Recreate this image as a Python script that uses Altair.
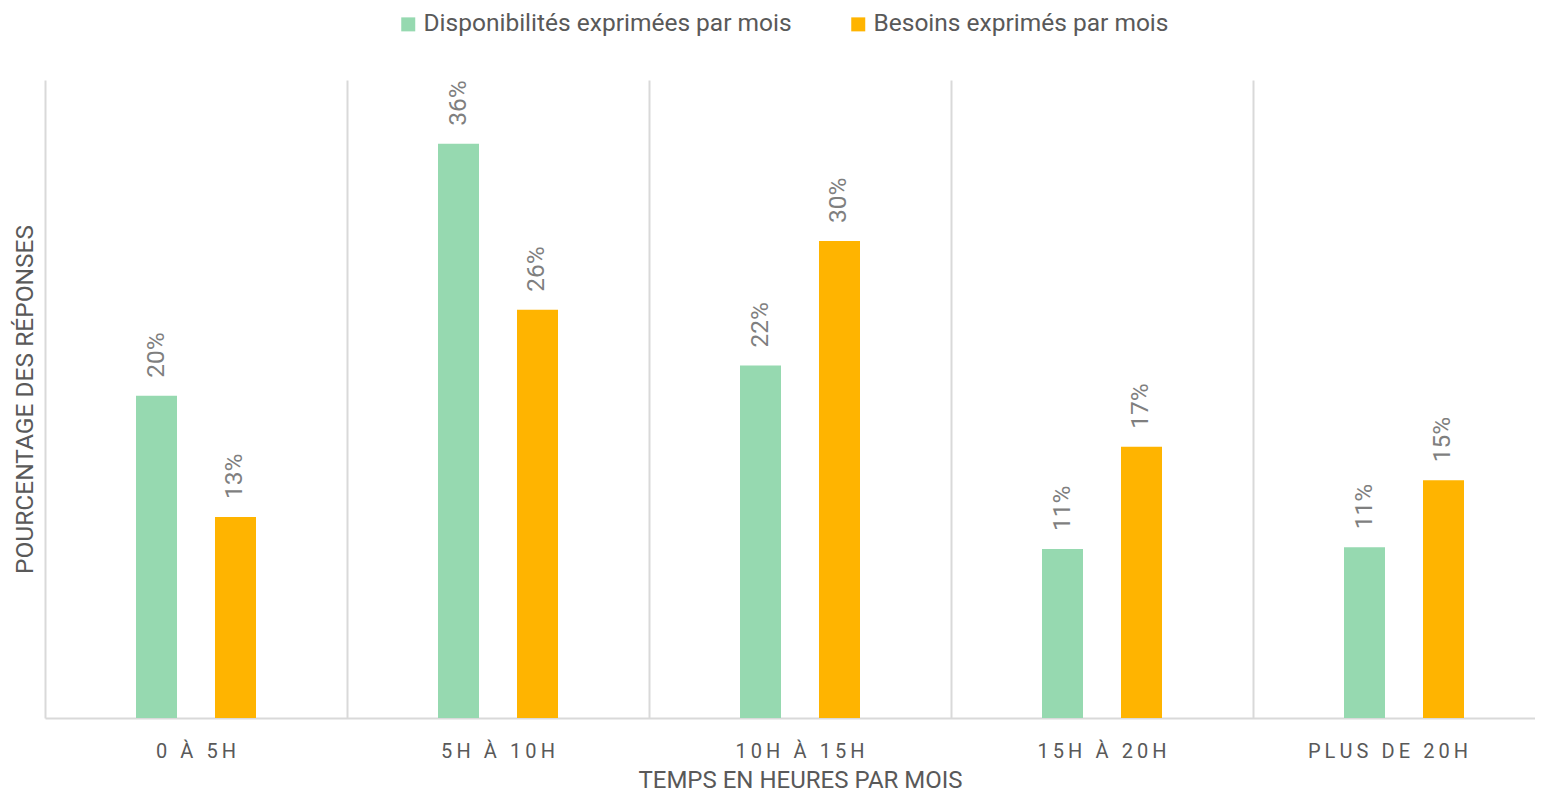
import altair as alt
import pandas as pd

categories = ["0 À 5H", "5H À 10H", "10H À 15H", "15H À 20H", "PLUS DE 20H"]
series = ["Disponibilités exprimées par mois", "Besoins exprimés par mois"]
dispo = [0.202, 0.36, 0.221, 0.106, 0.107]
besoins = [0.126, 0.256, 0.299, 0.17, 0.149]
colors = ["#96D9B0", "#FFB400"]

rows = []
for c, d, b in zip(categories, dispo, besoins):
    rows.append({"cat": c, "serie": series[0], "val": d})
    rows.append({"cat": c, "serie": series[1], "val": b})
df = pd.DataFrame(rows)

FONT = "Roboto"
GRAY = "#595959"

x = alt.X(
    "cat:N",
    sort=categories,
    scale=alt.Scale(paddingInner=0, paddingOuter=0),
    axis=alt.Axis(
        title="TEMPS EN HEURES PAR MOIS",
        labelAngle=0,
        labelFontSize=20,
        labelColor=GRAY,
        labelFont=FONT,
        labelBaseline="alphabetic",
        labelPadding=39,
        labelExpr="join(split(datum.label, ''), '\u2009')",
        labelOffset={
            "condition": {"test": "datum.value == 'PLUS DE 20H'", "value": -16},
            "value": 0,
        },
        ticks=False,
        domainColor="#D9D9D9",
        domainWidth=2,
        grid=True,
        gridColor="#D9D9D9",
        gridWidth=2,
        bandPosition=0,
        titleFontSize=24,
        titleFont=FONT,
        titleColor=GRAY,
        titleFontWeight="normal",
        titleBaseline="alphabetic",
        titleY=69,
    ),
)
xo = alt.XOffset(
    "serie:N",
    sort=series,
    scale=alt.Scale(range=[91, 211], paddingInner=0.481, paddingOuter=0),
)
y = alt.Y(
    "val:Q",
    scale=alt.Scale(domain=[0, 0.4], nice=False),
    axis=alt.Axis(
        title="POURCENTAGE DES RÉPONSES",
        labels=False,
        ticks=False,
        domain=False,
        grid=False,
        titleFontSize=24.5,
        titleFont=FONT,
        titleColor=GRAY,
        titleFontWeight="normal",
        titlePadding=8,
    ),
)
color = alt.Color(
    "serie:N",
    sort=series,
    scale=alt.Scale(domain=series, range=colors),
    legend=alt.Legend(
        title=None,
        orient="none",
        direction="horizontal",
        legendX=351,
        legendY=-68,
        symbolType="square",
        symbolSize=196,
        symbolStrokeWidth=0,
        labelFontSize=24.5,
        labelFont=FONT,
        labelColor=GRAY,
        labelOffset=3,
        labelLimit=0,
        columnPadding=54,
        padding=0,
    ),
)

base = alt.Chart(df).encode(x=x, xOffset=xo, y=y)
bars = base.mark_bar().encode(color=color)
labels = base.mark_text(
    angle=270, align="left", baseline="middle", dx=18,
    fontSize=24.5, font=FONT, color="#7F7F7F",
).encode(text=alt.Text("val:Q", format=".0%"))

chart = (
    alt.layer(bars, labels)
    .properties(
        width=1510,
        height=638,
        autosize=alt.AutoSizeParams(type="none"),
        padding={"left": 37, "top": 72, "right": -20, "bottom": 75},
    )
    .configure_view(stroke=None)
)

chart.save("out.html", embed_options={"renderer": "svg", "actions": False})
